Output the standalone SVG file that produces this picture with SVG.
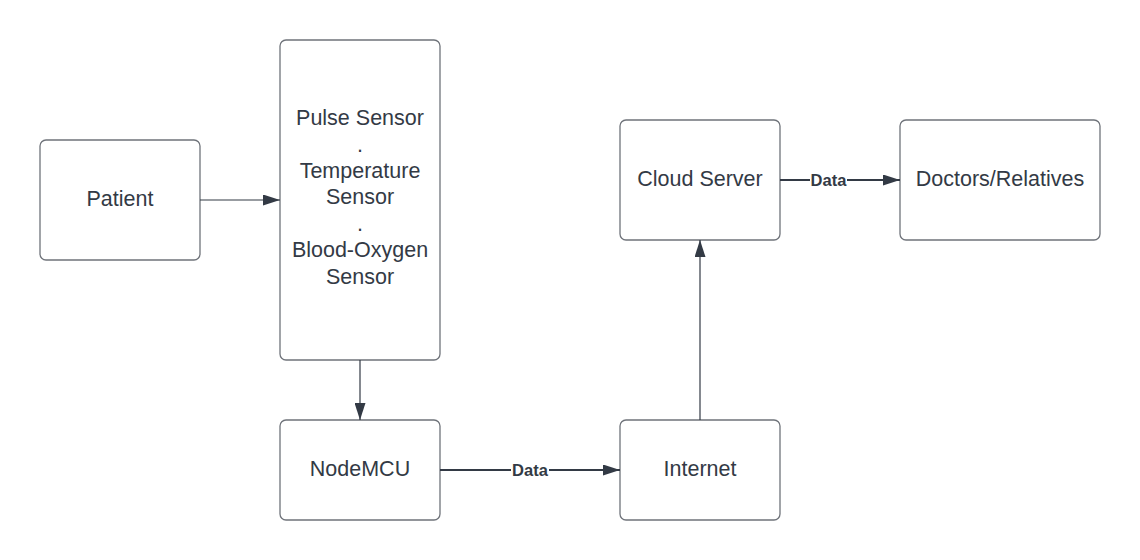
<svg xmlns="http://www.w3.org/2000/svg" width="1140" height="560" viewBox="0 0 1140 560">
<defs>
<style>
.box{fill:#ffffff;stroke:#6f737a;stroke-width:1.3}
.t{font-family:"Liberation Sans",Arial,sans-serif;font-size:21.5px;fill:#333a45;text-anchor:middle}
.lbl{font-family:"Liberation Sans",Arial,sans-serif;font-size:16.5px;font-weight:bold;fill:#333a45;text-anchor:middle}
.thin{stroke:#333a45;stroke-width:1.2;fill:none}
.thick{stroke:#333a45;stroke-width:2;fill:none}
</style>
<marker id="ah" markerWidth="17" markerHeight="11" refX="17" refY="5.5" orient="auto" markerUnits="userSpaceOnUse">
<path d="M0,0 L17,5.5 L0,11 Z" fill="#333a45"/>
</marker>
</defs>
<rect width="1140" height="560" fill="#ffffff"/>
<g id="patient"><rect class="box" x="40" y="140" width="160" height="120" rx="6"/><text class="t" x="120" y="206">Patient</text></g>
<g id="sensors"><rect class="box" x="280" y="40" width="160" height="320" rx="6"/>
<text class="t" x="360" y="125">Pulse Sensor</text>
<text class="t" x="360" y="152">.</text>
<text class="t" x="360" y="178">Temperature</text>
<text class="t" x="360" y="204">Sensor</text>
<text class="t" x="360" y="231">.</text>
<text class="t" x="360" y="257">Blood-Oxygen</text>
<text class="t" x="360" y="284">Sensor</text></g>
<g id="nodemcu"><rect class="box" x="280" y="420" width="160" height="100" rx="6"/><text class="t" x="360" y="476">NodeMCU</text></g>
<g id="internet"><rect class="box" x="620" y="420" width="160" height="100" rx="6"/><text class="t" x="700" y="476">Internet</text></g>
<g id="cloud"><rect class="box" x="620" y="120" width="160" height="120" rx="6"/><text class="t" x="700" y="186">Cloud Server</text></g>
<g id="doctors"><rect class="box" x="900" y="120" width="200" height="120" rx="6"/><text class="t" x="1000" y="186">Doctors/Relatives</text></g>
<g id="connectors">
<line class="thin" x1="200" y1="200" x2="280" y2="200" marker-end="url(#ah)"/>
<line class="thin" x1="360" y1="360" x2="360" y2="420" marker-end="url(#ah)"/>
<line class="thick" x1="440" y1="470" x2="511" y2="470"/>
<line class="thick" x1="549" y1="470" x2="620" y2="470" marker-end="url(#ah)"/>
<text class="lbl" x="530" y="476">Data</text>
<line class="thin" x1="700" y1="420" x2="700" y2="240" marker-end="url(#ah)"/>
<line class="thick" x1="780" y1="180" x2="810" y2="180"/>
<line class="thick" x1="847" y1="180" x2="900" y2="180" marker-end="url(#ah)"/>
<text class="lbl" x="828.5" y="186">Data</text>
</g>
</svg>
